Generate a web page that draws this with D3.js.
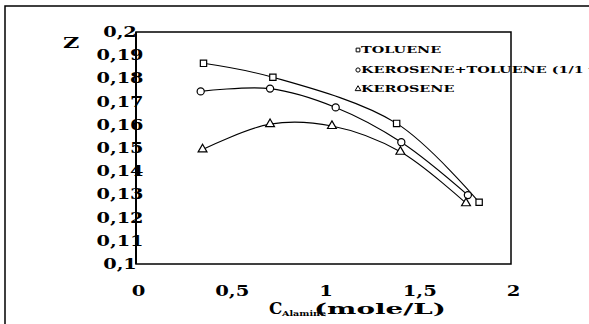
<!DOCTYPE html>
<html>
<head>
<meta charset="utf-8">
<script src="https://cdn.jsdelivr.net/npm/d3@7"></script>
<style>
    body { margin: 0; background: #fff; }
    svg { display: block; font-family: "DejaVu Serif", serif; font-weight: bold; }
</style>
</head>
<body>
<div id="chart"></div>
<script>
const X_TICKS = [0, 0.5, 1, 1.5, 2];
const Y_TICKS = [0.1, 0.11, 0.12, 0.13, 0.14, 0.15, 0.16, 0.17, 0.18, 0.19, 0.2];

const TOLUENE_X = [0.36, 0.73, 1.39, 1.83];
const TOLUENE_Z = [0.1865, 0.1805, 0.1606, 0.1266];

const MIX_X = [0.345, 0.715, 1.065, 1.415, 1.77];
const MIX_Z = [0.1744, 0.1756, 0.1675, 0.1525, 0.1297];

const KEROSENE_X = [0.355, 0.715, 1.045, 1.41, 1.76];
const KEROSENE_Z = [0.1494, 0.1603, 0.1595, 0.1484, 0.1262];

const SERIES = [
    { label: 'TOLUENE', symbol: d3.symbolSquare, size: 40, xs: TOLUENE_X, zs: TOLUENE_Z },
    { label: 'KEROSENE+TOLUENE (1/1 v/v)', symbol: d3.symbolCircle, size: 40, xs: MIX_X, zs: MIX_Z },
    { label: 'KEROSENE', symbol: d3.symbolTriangle, size: 34, xs: KEROSENE_X, zs: KEROSENE_Z }
];

const width = 589;
const height = 324;

const svg = d3.select('#chart').append('svg')
    .attr('width', width)
    .attr('height', height);

const xScale = d3.scaleLinear().domain([0, 2]).range([136, 511]);
const yScale = d3.scaleLinear().domain([0.1, 0.2]).range([264, 32]);
const commaFormat = (value) => String(+value.toFixed(2)).replace('.', ',');

function stretchedText(parent, x, y, text, size, stretch, anchor) {
    return parent.append('text')
        .attr('transform', `translate(${x},${y}) scale(${stretch},1)`)
        .attr('font-size', size)
        .attr('text-anchor', anchor || 'start')
        .attr('fill', '#000')
        .text(text);
}

// outer frame (only top and left edges visible in the scan)
svg.append('path')
    .attr('d', `M5,${height} V6 H${width}`)
    .attr('fill', 'none')
    .attr('stroke', '#000')
    .attr('stroke-width', 1.5);

// plot box
svg.append('rect')
    .attr('x', xScale(0))
    .attr('y', yScale(0.2))
    .attr('width', xScale(2) - xScale(0))
    .attr('height', yScale(0.1) - yScale(0.2))
    .attr('fill', 'none')
    .attr('stroke', '#000')
    .attr('stroke-width', 1.5);

svg.append('line')
    .attr('x1', xScale(0)).attr('x2', xScale(0))
    .attr('y1', yScale(0.2)).attr('y2', yScale(0.1))
    .attr('stroke', '#000')
    .attr('stroke-width', 2);

// y axis labels, centered at x=120, overlapping the axis line like the scan
svg.append('g')
    .attr('transform', 'translate(120,0)')
    .call(d3.axisLeft(yScale).tickValues(Y_TICKS).tickSize(0).tickPadding(0).tickFormat(commaFormat))
    .call((group) => group.select('.domain').remove())
    .call((group) => group.selectAll('text')
        .attr('x', 0)
        .attr('text-anchor', 'middle')
        .attr('font-family', '"DejaVu Serif", serif')
        .attr('font-weight', 'bold')
        .attr('font-size', 14)
        .attr('fill', '#000')
        .attr('transform', 'scale(1.38,1)'));

// x axis labels
svg.append('g')
    .attr('transform', 'translate(2,286)')
    .call(d3.axisBottom(xScale).tickValues(X_TICKS).tickSize(0).tickPadding(0).tickFormat(commaFormat))
    .call((group) => group.select('.domain').remove())
    .call((group) => group.selectAll('text')
        .attr('font-family', '"DejaVu Serif", serif')
        .attr('font-weight', 'bold')
        .attr('font-size', 14)
        .attr('fill', '#000')
        .attr('transform', 'scale(1.4,1)'));

// axis titles
stretchedText(svg, 63, 48, 'Z', 14, 1.6);
stretchedText(svg, 269, 314, 'C', 16, 1.05);
stretchedText(svg, 282, 316, 'Alamine', 8, 1.2);
stretchedText(svg, 314, 314, '(mole/L)', 15, 1.85);

// curves and markers
const lineGenerator = d3.line()
    .x((datum) => xScale(datum.x))
    .y((datum) => yScale(datum.z))
    .curve(d3.curveCatmullRom.alpha(0.5));

SERIES.forEach((series) => {
    const points = series.xs.map((x, index) => ({ x, z: series.zs[index] }));

    svg.append('path')
        .datum(points)
        .attr('fill', 'none')
        .attr('stroke', '#000')
        .attr('stroke-width', 1.1)
        .attr('d', lineGenerator);

    svg.append('g')
        .selectAll('path')
        .data(points)
        .enter()
        .append('path')
        .attr('transform', (datum) => `translate(${xScale(datum.x)},${yScale(datum.z)})`)
        .attr('d', d3.symbol().type(series.symbol).size(series.size))
        .attr('fill', '#fff')
        .attr('stroke', '#000')
        .attr('stroke-width', 1.2);
});

// legend
const legendRows = [53, 73, 92];
SERIES.forEach((series, index) => {
    const rowY = legendRows[index];
    svg.append('path')
        .attr('transform', `translate(358,${rowY - 3})`)
        .attr('d', d3.symbol().type(series.symbol).size(14))
        .attr('fill', '#fff')
        .attr('stroke', '#000')
        .attr('stroke-width', 1);
    stretchedText(svg, 361, rowY, series.label, 9, 1.6);
});
</script>
</body>
</html>
